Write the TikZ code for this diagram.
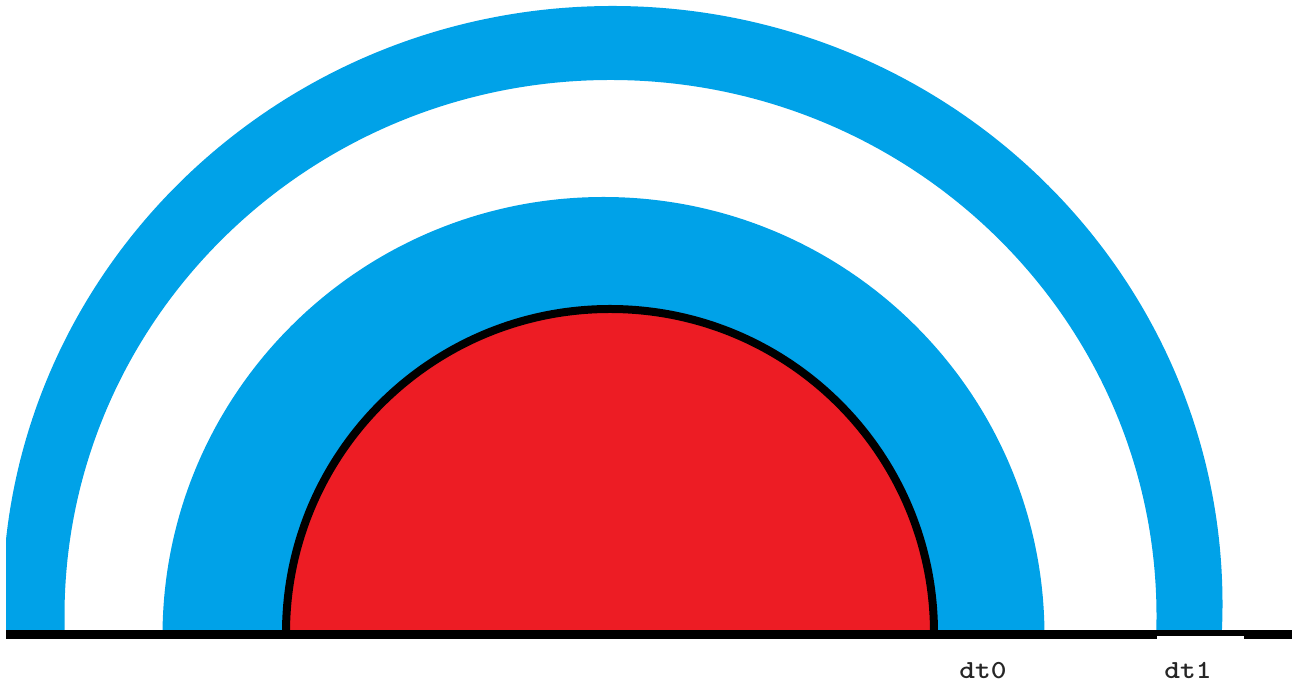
\documentclass[tikz,border=0pt]{standalone}
\usepackage{fontspec}
\definecolor{ringblue}{HTML}{00A2E8}
\definecolor{corered}{HTML}{ED1C24}
\tikzset{
  ring/.style={fill=ringblue, draw=none, even odd rule},
  core/.style={fill=corered, draw=black, line width=8pt},
  ground/.style={draw=black, line width=9pt, line cap=butt},
  lbl/.style={font=\ttfamily\bfseries\fontsize{26}{29}\selectfont, text=black!85, anchor=base, inner sep=0pt, xscale=1.15, transform shape}
}
\begin{document}
\begin{tikzpicture}[x=1pt,y=1pt]
\useasboundingbox (0,0) rectangle (1296,684);
\begin{scope}
\clip (6,50) rectangle (1296,684);
% outer ring
\fill[ring] (612.5,80) ellipse[x radius=610, y radius=598]
            (610.5,68) ellipse[x radius=546, y radius=536];
% inner ring
\fill[ringblue] (603.5,48) ellipse[x radius=441, y radius=439];
% red core
\filldraw[core] (610,51) ellipse[x radius=324, y radius=324];
\end{scope}
% ground line
\coordinate (gl) at (6,49.5);
\coordinate (gr) at (1292,49.5);
\draw[ground] (gl) -- (gr);
\fill[white] (1157,44) rectangle (1244,48);
% labels
\node[lbl] (dt0) at (983,5) {dt0};
\node[lbl] (dt1) at (1188,5) {dt1};
\end{tikzpicture}
\end{document}
